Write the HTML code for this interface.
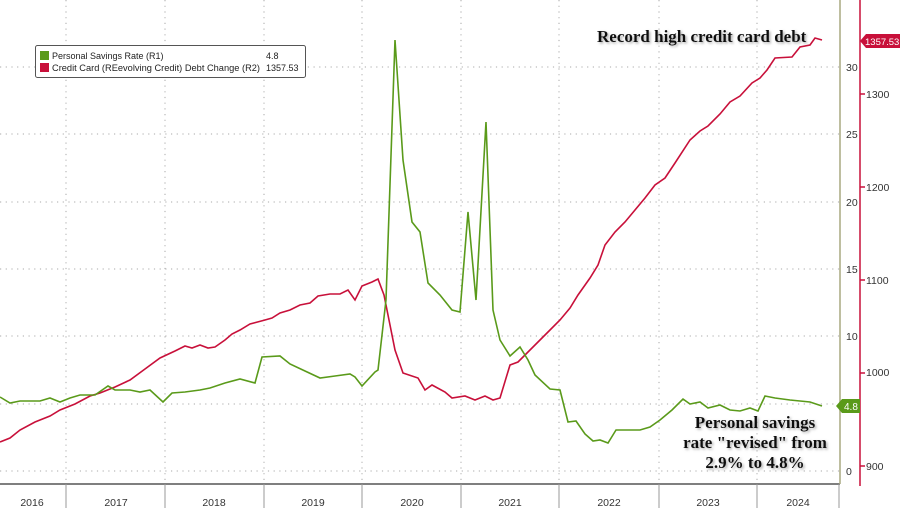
<!DOCTYPE html>
<html><head><meta charset="utf-8"><style>
body{margin:0;background:#fff;}
svg{display:block;}
</style></head><body>
<svg width="900" height="508" xmlns="http://www.w3.org/2000/svg" font-family="Liberation Sans, sans-serif">
<defs><filter id="sh" x="-10%" y="-30%" width="120%" height="160%"><feDropShadow dx="1.5" dy="1.5" stdDeviation="1.2" flood-color="#888" flood-opacity="0.7"/></filter></defs>
<rect width="900" height="508" fill="#fff"/>
<g stroke="#aaa" stroke-dasharray="1.2,4.5" stroke-width="1">
<line x1="0" y1="67" x2="840" y2="67"/>
<line x1="0" y1="134" x2="840" y2="134"/>
<line x1="0" y1="202" x2="840" y2="202"/>
<line x1="0" y1="269" x2="840" y2="269"/>
<line x1="0" y1="336" x2="840" y2="336"/>
<line x1="0" y1="404" x2="840" y2="404"/>
<line x1="0" y1="471" x2="840" y2="471"/>
<line x1="66" y1="0" x2="66" y2="484"/>
<line x1="165" y1="0" x2="165" y2="484"/>
<line x1="264" y1="0" x2="264" y2="484"/>
<line x1="362" y1="0" x2="362" y2="484"/>
<line x1="461" y1="0" x2="461" y2="484"/>
<line x1="559" y1="0" x2="559" y2="484"/>
<line x1="659" y1="0" x2="659" y2="484"/>
<line x1="757" y1="0" x2="757" y2="484"/>
</g>
<line x1="0" y1="484" x2="840" y2="484" stroke="#555" stroke-width="1.5"/>
<g stroke="#999" stroke-width="1">
<line x1="66" y1="484" x2="66" y2="508"/><line x1="165" y1="484" x2="165" y2="508"/><line x1="264" y1="484" x2="264" y2="508"/><line x1="362" y1="484" x2="362" y2="508"/><line x1="461" y1="484" x2="461" y2="508"/><line x1="559" y1="484" x2="559" y2="508"/><line x1="659" y1="484" x2="659" y2="508"/><line x1="757" y1="484" x2="757" y2="508"/><line x1="839" y1="484" x2="839" y2="508"/>
</g>
<g fill="#333" font-size="10.5" text-anchor="middle">
<text x="32" y="506">2016</text><text x="116" y="506">2017</text><text x="214" y="506">2018</text><text x="313" y="506">2019</text><text x="412" y="506">2020</text><text x="510" y="506">2021</text><text x="609" y="506">2022</text><text x="708" y="506">2023</text><text x="798" y="506">2024</text>
</g>
<line x1="840" y1="0" x2="840" y2="484" stroke="#a8a880" stroke-width="1.5"/>
<line x1="860" y1="0" x2="860" y2="486" stroke="#c8103a" stroke-width="1.5"/>
<g fill="#333" font-size="10.5">
<text x="846" y="71">30</text><text x="846" y="138">25</text><text x="846" y="206">20</text><text x="846" y="273">15</text><text x="846" y="340">10</text><text x="846" y="475">0</text>
<text x="866" y="98">1300</text><text x="866" y="191">1200</text><text x="866" y="284">1100</text><text x="866" y="376">1000</text><text x="866" y="470">900</text>
</g>
<g stroke="#c8103a" stroke-width="1.5"><line x1="860" y1="94" x2="865" y2="94"/><line x1="860" y1="187" x2="865" y2="187"/><line x1="860" y1="280" x2="865" y2="280"/><line x1="860" y1="373" x2="865" y2="373"/><line x1="860" y1="466" x2="865" y2="466"/></g>
<polygon points="836,406 842,399 860,399 860,413 842,413" fill="#5a9a1a"/>
<text x="844" y="410" font-size="10" fill="#fff">4.8</text>
<polygon points="860,41 866,34 900,34 900,48 866,48" fill="#c8103a"/>
<text x="865" y="45" font-size="9.5" fill="#fff">1357.53</text>
<polyline fill="none" stroke="#c8103a" stroke-width="1.6" points="0,442 10,438 20,430 35,422 50,416 60,410 75,404 90,396 100,393 115,387 130,380 145,369 160,358 175,351 185,346 192,348 200,345 208,348 215,347 225,340 232,334 240,330 250,324 265,320 272,318 280,313 290,310 300,305 310,303 318,296 330,294 340,294 348,290 355,300 362,286 372,282 378,279 384,295 395,350 403,373 418,378 425,390 432,385 445,392 452,398 465,396 475,400 485,396 493,400 500,398 510,365 518,362 525,355 535,345 550,330 560,320 570,308 578,295 590,278 598,265 605,245 615,232 625,222 635,210 645,198 655,185 665,178 675,163 690,140 700,131 708,126 720,114 730,102 740,96 752,83 760,78 767,70 775,58 792,57 800,47 810,45 815,38 822,40"/>
<polyline fill="none" stroke="#5a9a1a" stroke-width="1.6" points="0,397 10,403 20,401 40,401 50,398 60,402 70,398 80,395 95,395 108,386 115,390 130,390 140,392 150,390 163,402 172,393 185,392 200,390 210,388 225,383 240,379 255,383 262,357 280,356 290,364 305,371 320,378 335,376 350,374 355,377 362,386 375,372 378,370 386,300 395,40 403,160 412,222 420,232 428,283 440,295 452,310 460,312 468,212 476,300 486,122 493,310 500,340 510,356 520,347 528,360 535,375 550,389 560,390 568,422 576,421 585,434 593,441 600,440 608,443 616,430 640,430 650,427 660,420 672,410 683,399 690,404 700,402 708,408 720,405 730,410 740,411 750,408 758,411 765,396 775,398 790,400 810,402 822,406"/>
<rect x="35.5" y="45.5" width="270" height="32" rx="2" fill="#fff" stroke="#555"/>
<rect x="40" y="51" width="9" height="9" fill="#5a9a1a"/>
<rect x="40" y="63" width="9" height="9" fill="#c8103a"/>
<g font-size="9" fill="#222">
<text x="52" y="59">Personal Savings Rate (R1)</text>
<text x="266" y="59">4.8</text>
<text x="52" y="71" textLength="208" lengthAdjust="spacingAndGlyphs">Credit Card (REevolving Credit) Debt Change (R2)</text>
<text x="266" y="71">1357.53</text>
</g>
<g font-family="Liberation Serif, serif" font-weight="bold" fill="#111" font-size="17" filter="url(#sh)">
<text x="597" y="42">Record high credit card debt</text>
<g text-anchor="middle">
<text x="755" y="428">Personal savings</text>
<text x="755" y="448">rate "revised" from</text>
<text x="755" y="468">2.9% to 4.8%</text>
</g>
</g>
</svg>
</body></html>
